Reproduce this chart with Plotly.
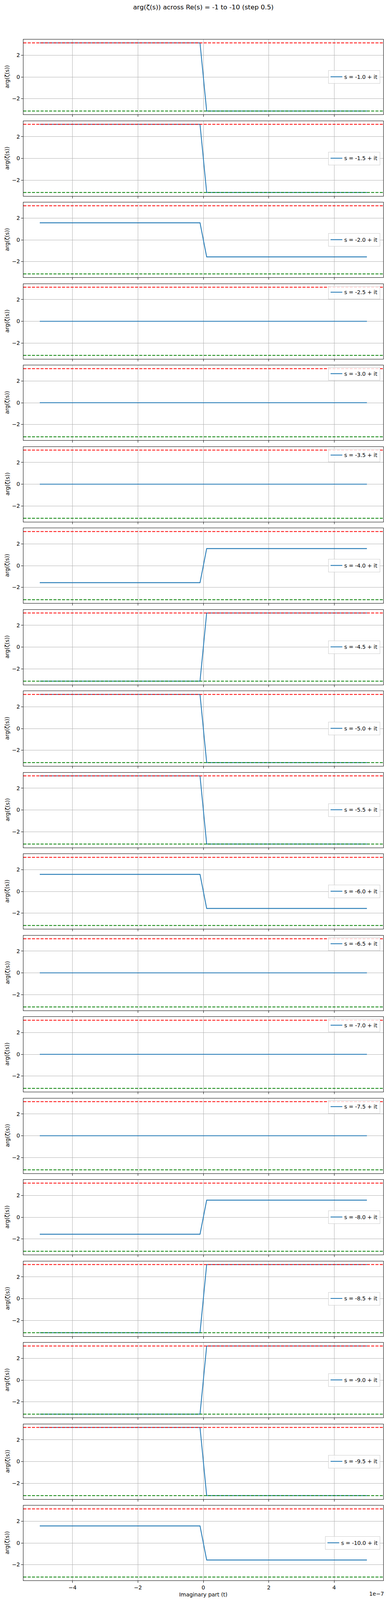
import plotly.graph_objects as go
from plotly.subplots import make_subplots

# Re(s) of each panel
s_real = [-1.0, -1.5, -2.0, -2.5, -3.0, -3.5, -4.0, -4.5, -5.0, -5.5,
          -6.0, -6.5, -7.0, -7.5, -8.0, -8.5, -9.0, -9.5, -10.0]

# imaginary part: the curves are flat except for one step around t = 0
t_points = [-5.0e-7, -0.102e-7, 0.102e-7, 5.0e-7]

# arg(zeta(s)), left of the step and right of it
arg_left = [3.1416, 3.1416, 1.5708, 0.0, 0.0, 0.0, -1.5708, -3.1416, 3.1416, 3.1416,
            1.5708, 0.0, 0.0, 0.0, -1.5708, -3.1416, -3.1416, 3.1416, 1.5708]
arg_right = [-3.1416, -3.1416, -1.5708, 0.0, 0.0, 0.0, 1.5708, 3.1416, -3.1416, -3.1416,
             -1.5708, 0.0, 0.0, 0.0, 1.5708, 3.1416, 3.1416, -3.1416, -1.5708]

pi_ref = 3.1416
y_ticks = [-2, 0, 2]
x_ticks = [-4e-7, -2e-7, 0, 2e-7, 4e-7]
x_ticktext = ["\u22124", "\u22122", "0", "2", "4"]

W, H = 989, 4156
# the screenshot stops near 4096px, so the stack is packed a little tighter
# than the original to keep the bottom tick labels and axis title in view
ML, MR, MT, MB = 60, 7, 101, 110
PANEL_H = 192
plot_w = W - ML - MR
plot_h = H - MT - MB
n = len(s_real)
gap = (plot_h - n * PANEL_H) / (n - 1)

FONT = "DejaVu Sans"
BLUE = "#1f77b4"
GRID = "#b0b0b0"

fig = make_subplots(rows=n, cols=1, shared_xaxes=True,
                    vertical_spacing=gap / plot_h)

for i, s in enumerate(s_real):
    row = i + 1
    leg = "legend" if i == 0 else f"legend{row}"
    y_vals = [arg_left[i], arg_left[i], arg_right[i], arg_right[i]]
    fig.add_trace(go.Scatter(x=t_points, y=y_vals, mode="lines",
                             line=dict(color=BLUE, width=2.1),
                             name=f"s = {s:.1f} + it", legend=leg,
                             showlegend=True), row=row, col=1)
    fig.add_hline(y=pi_ref, line=dict(color="red", width=2.1, dash="7.7px,3.3px"),
                  row=row, col=1)
    fig.add_hline(y=-pi_ref, line=dict(color="green", width=2.1, dash="7.7px,3.3px"),
                  row=row, col=1)

    ax = "yaxis" if i == 0 else f"yaxis{row}"
    dom = fig.layout[ax].domain
    # matplotlib "best" put the legend top-right on the flat curves, mid-right otherwise
    if arg_left[i] == arg_right[i]:
        ly, lanchor = dom[1] - 5 / plot_h, "top"
    else:
        ly, lanchor = (dom[0] + dom[1]) / 2, "middle"
    fig.update_layout({leg: dict(x=1 - 8 / plot_w, xanchor="right", y=ly, yanchor=lanchor,
                                 xref="paper", yref="paper",
                                 bgcolor="rgba(255,255,255,0.8)", bordercolor="#cccccc",
                                 borderwidth=1, font=dict(family=FONT, size=13.9, color="black"),
                                 itemwidth=30, tracegroupgap=0)})

    fig.add_annotation(text="arg(\u03b6(s))", textangle=-90, xref="paper", yref="paper",
                       x=(18 - ML) / plot_w, y=(dom[0] + dom[1]) / 2,
                       xanchor="center", yanchor="middle", showarrow=False,
                       font=dict(family=FONT, size=13.9, color="black"))

fig.update_xaxes(range=[-5.5e-7, 5.5e-7], tickvals=x_ticks, ticktext=x_ticktext,
                 showgrid=True, gridcolor=GRID, gridwidth=1.1, zeroline=False,
                 showline=True, linecolor="black", linewidth=1.1, mirror=True,
                 ticks="outside", ticklen=5, tickwidth=1.1, tickcolor="black",
                 showticklabels=False, automargin=False,
                 tickfont=dict(family=FONT, size=13.9, color="black"))
fig.update_xaxes(showticklabels=True, row=n, col=1)
fig.update_yaxes(range=[-3.456, 3.456], tickvals=y_ticks,
                 showgrid=True, gridcolor=GRID, gridwidth=1.1, zeroline=False,
                 showline=True, linecolor="black", linewidth=1.1, mirror=True,
                 ticks="outside", ticklen=5, tickwidth=1.1, tickcolor="black",
                 automargin=False,
                 tickfont=dict(family=FONT, size=13.9, color="black"))

fig.add_annotation(text="Imaginary part (t)", xref="paper", yref="paper",
                   x=0.5, y=-36 / plot_h, xanchor="center", yanchor="middle",
                   showarrow=False, font=dict(family=FONT, size=13.9, color="black"))
fig.add_annotation(text="1e\u22127", xref="paper", yref="paper",
                   x=(986 - ML) / plot_w, y=-34 / plot_h, xanchor="right", yanchor="middle",
                   showarrow=False, font=dict(family=FONT, size=13.9, color="black"))

fig.update_layout(
    width=W, height=H,
    margin=dict(l=ML, r=MR, t=MT, b=MB),
    paper_bgcolor="white", plot_bgcolor="white",
    title=dict(text="arg(\u03b6(s)) across Re(s) = -1 to -10 (step 0.5)",
               x=0.5, xanchor="center", xref="paper", y=1 - 18 / H, yanchor="middle",
               font=dict(family=FONT, size=16.7, color="black")),
    font=dict(family=FONT, color="black"),
)

# drop the default 8px page margin so the figure sits at the window's corner
fig.write_html("out.html", config={"displayModeBar": False},
               post_script="document.body.style.margin='0';document.body.style.overflow='hidden';")
